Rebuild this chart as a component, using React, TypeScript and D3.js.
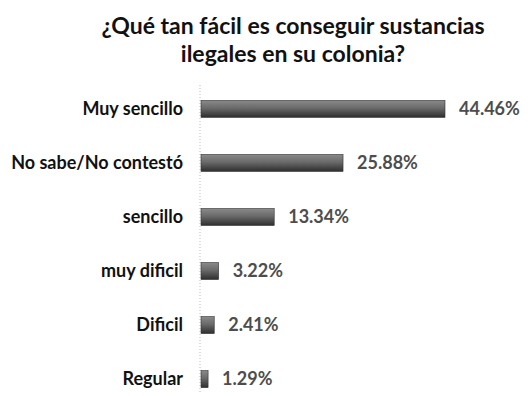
import React from "react";
import * as d3 from "d3";

const categories = ["Muy sencillo", "No sabe/No contestó", "sencillo", "muy dificil", "Dificil", "Regular"];
const values = [44.46, 25.88, 13.34, 3.22, 2.41, 1.29];
const valueLabels = ["44.46%", "25.88%", "13.34%", "3.22%", "2.41%", "1.29%"];
const titleLines = ["¿Qué tan fácil es conseguir sustancias", "ilegales en su colonia?"];

const W = 530, H = 396;
const FONT = "Lato, 'Open Sans', sans-serif";

export default function App() {
  const x = d3.scaleLinear().domain([0, 44.46]).range([201, 445]);
  const y = d3.scaleBand().domain(categories).range([82, 406]).paddingInner(0.685).paddingOuter(0.34);
  return (
    <svg width={W} height={H} style={{ position: "absolute", left: 0, top: 0, background: "#fff" }}>
      <defs>
        <linearGradient id="barg" x1="0" y1="0" x2="0" y2="1">
          <stop offset="0" stopColor="#8a8a8a" />
          <stop offset="0.45" stopColor="#6a6a6a" />
          <stop offset="1" stopColor="#2e2e2e" />
        </linearGradient>
      </defs>
      {titleLines.map((t, i) => (
        <text key={i} x={293} y={34 + i * 28} textAnchor="middle" fontFamily={FONT} fontWeight="bold" fontSize={23} fill="#111">{t}</text>
      ))}
      <line x1={200} x2={200} y1={85} y2={392} stroke="#bbb" strokeDasharray="1,2" />
      {categories.map((c, i) => {
        const by = y(c)!;
        const bh = y.bandwidth();
        return (
          <g key={c}>
            <rect x={x(0)} y={by} width={x(values[i]) - x(0)} height={bh} fill="url(#barg)" stroke="#333" strokeWidth={0.6} />
            <text x={183} y={by + bh / 2} dy="0.35em" textAnchor="end" fontFamily={FONT} fontWeight="bold" fontSize={18} fill="#111">{c}</text>
            <text x={x(values[i]) + 14} y={by + bh / 2} dy="0.35em" fontFamily={FONT} fontWeight="bold" fontSize={18} fill="#4d4d4d">{valueLabels[i]}</text>
          </g>
        );
      })}
    </svg>
  );
}
